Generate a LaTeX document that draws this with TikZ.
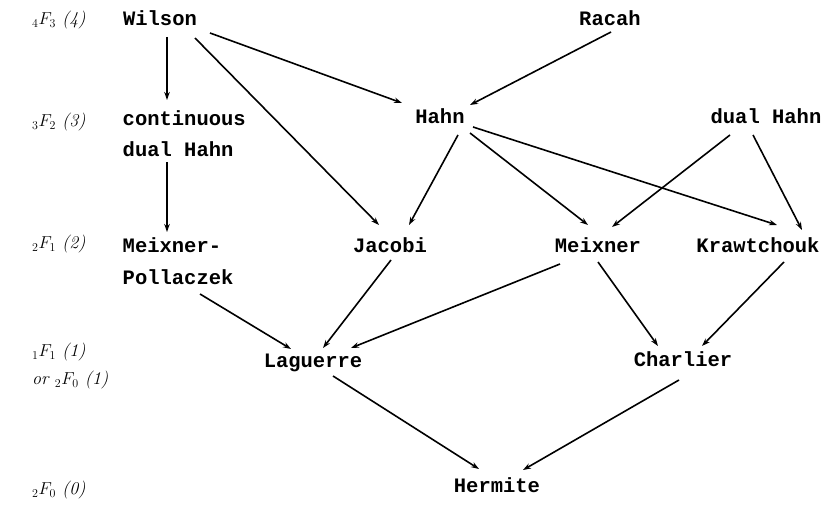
\documentclass[tikz,border=0pt]{standalone}
\usepackage{fontspec}
\newfontfamily\twfont{Liberation Mono}
\usetikzlibrary{arrows.meta}
\begin{document}
\begin{tikzpicture}[x=1pt,y=-1pt,
  poly/.style={font=\twfont\bfseries\fontsize{20.5}{31.5}\selectfont, inner sep=0pt, text height=11pt, text depth=0pt},
  polytwo/.style={font=\twfont\bfseries\fontsize{20.5}{31.5}\selectfont, inner sep=0pt, anchor=base west},
  lab/.style={font=\fontsize{18}{21}\selectfont\itshape, anchor=west, inner sep=0pt},
  arr/.style={line width=1.6pt, -{Stealth[length=8pt,width=5.5pt]}}]
\path[use as bounding box] (0,0) rectangle (828,511);

% level labels
\node[lab] (l4) at (32,20) {${}_{4}F_{3}$ (4)};
\node[lab] (l3) at (32,122) {${}_{3}F_{2}$ (3)};
\node[lab] (l2) at (32,244) {${}_{2}F_{1}$ (2)};
\node[lab] (l1a) at (32,352) {${}_{1}F_{1}$ (1)};
\node[lab] (l1b) at (32,380) {or ${}_{2}F_{0}$ (1)};
\node[lab] (l0) at (32,490) {${}_{2}F_{0}$ (0)};

% polynomial families
\node[poly] (wilson) at (160,20) {Wilson};
\node[poly] (racah) at (610,20) {Racah};
\node[polytwo] (cdh) at (122.5,125.5) {\begin{tabular}[t]{@{}l@{}}continuous\\dual Hahn\end{tabular}};
\node[poly] (hahn) at (440,118) {Hahn};
\node[poly] (dhahn) at (766,118) {dual Hahn};
\node[polytwo] (mp) at (122.5,252.5) {\begin{tabular}[t]{@{}l@{}}Meixner-\\Pollaczek\end{tabular}};
\node[poly] (jacobi) at (390,247) {Jacobi};
\node[poly] (meixner) at (598,247) {Meixner};
\node[poly] (kraw) at (758,247) {Krawtchouk};
\node[poly] (laguerre) at (313,362) {Laguerre};
\node[poly] (charlier) at (683,361) {Charlier};
\node[poly] (hermite) at (497,487) {Hermite};

% connectors
\draw[arr] ([shift={(7,17)}]wilson.center) -- ([shift={(44.5,-25.5)}]cdh.base west);
\draw[arr] ([shift={(44.5,36.5)}]cdh.base west) -- ([shift={(44.5,-20.5)}]mp.base west);
\draw[arr] ([shift={(50,13)}]wilson.center) -- ([shift={(-38,-15)}]hahn.center);
\draw[arr] ([shift={(35,18)}]wilson.center) -- ([shift={(-11,-22)}]jacobi.center);
\draw[arr] ([shift={(1,12)}]racah.center) -- ([shift={(30,-13)}]hahn.center);
\draw[arr] ([shift={(18,17)}]hahn.center) -- ([shift={(19,-22)}]jacobi.center);
\draw[arr] ([shift={(30,15)}]hahn.center) -- ([shift={(-10,-22)}]meixner.center);
\draw[arr] ([shift={(33,9)}]hahn.center) -- ([shift={(19,-22)}]kraw.center);
\draw[arr] ([shift={(-36,17)}]dhahn.center) -- ([shift={(14,-20)}]meixner.center);
\draw[arr] ([shift={(-13,17)}]dhahn.center) -- ([shift={(44,-17)}]kraw.center);
\draw[arr] ([shift={(77.5,41.5)}]mp.base west) -- ([shift={(-22,-13)}]laguerre.center);
\draw[arr] ([shift={(1,13)}]jacobi.center) -- ([shift={(10,-14)}]laguerre.center);
\draw[arr] ([shift={(-38,17)}]meixner.center) -- ([shift={(38,-14)}]laguerre.center);
\draw[arr] ([shift={(0,15)}]meixner.center) -- ([shift={(-25,-15)}]charlier.center);
\draw[arr] ([shift={(26,15)}]kraw.center) -- ([shift={(19,-15)}]charlier.center);
\draw[arr] ([shift={(20,14)}]laguerre.center) -- ([shift={(-18,-18)}]hermite.center);
\draw[arr] ([shift={(-4,19)}]charlier.center) -- ([shift={(26,-17)}]hermite.center);
\end{tikzpicture}
\end{document}
